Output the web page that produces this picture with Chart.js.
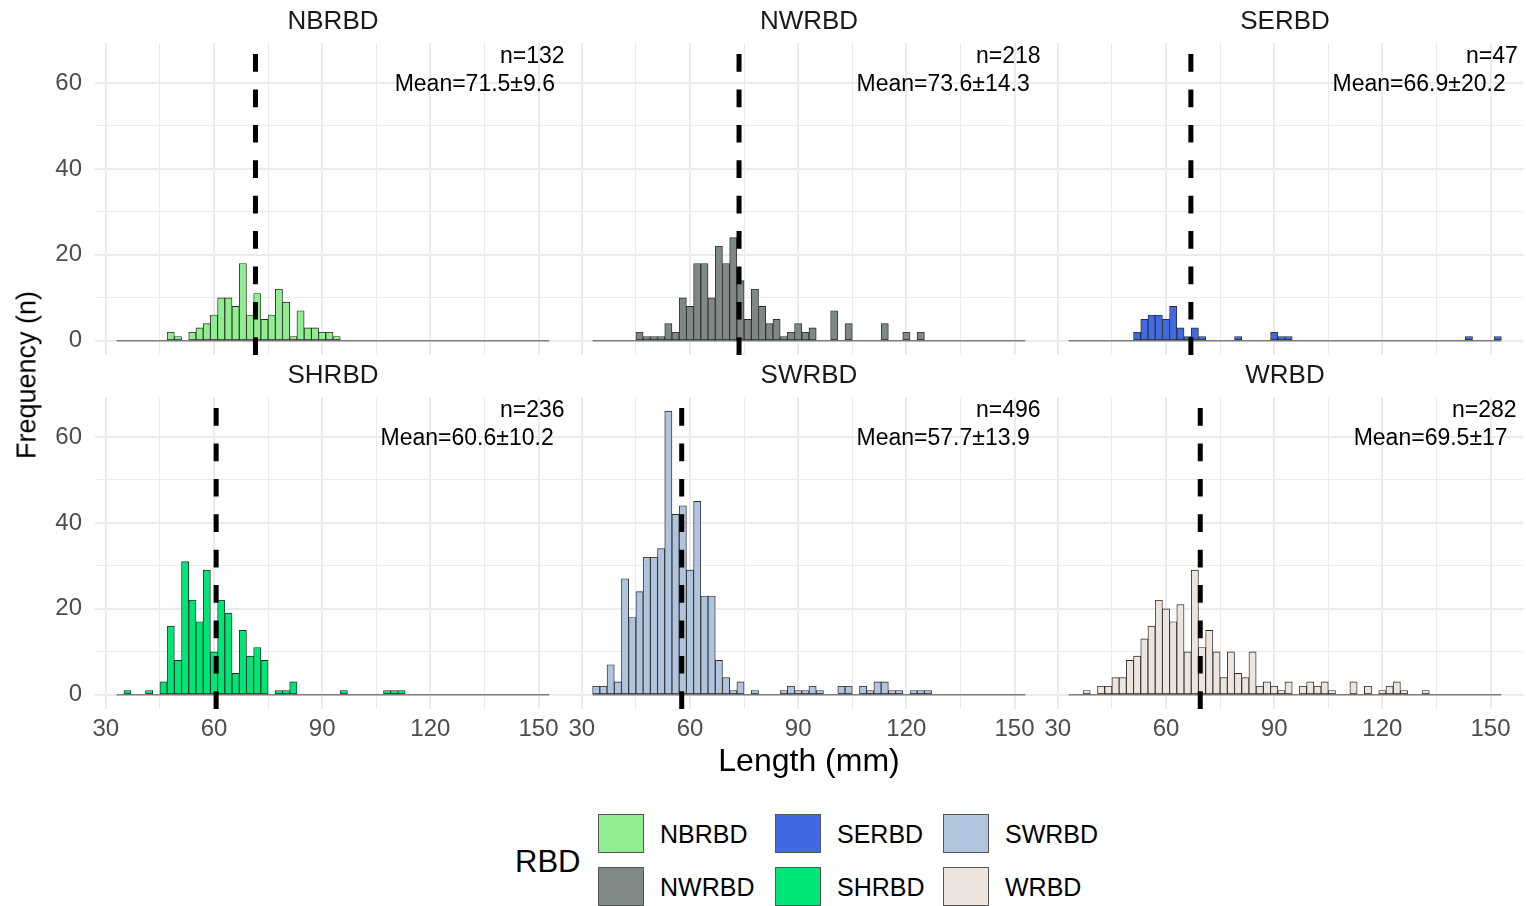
<!DOCTYPE html>
<html>
<head>
<meta charset="utf-8">
<title>Length histograms by RBD</title>
<script src="https://cdn.jsdelivr.net/npm/chart.js@4.4.1/dist/chart.umd.min.js"></script>
<style>
  body { margin: 0; background: #fff; font-family: "Liberation Sans", Arial, sans-serif; }
  #wrap { position: relative; width: 1526px; height: 906px; overflow: hidden; background: #fff; }
  .panel { position: absolute; }
  .txt { position: absolute; white-space: nowrap; color: #000; line-height: 1; }
  .key { position: absolute; width: 46px; height: 39px; box-sizing: border-box; border: 1px solid #555; }
</style>
</head>
<body>
<div id="wrap"></div>

<script>
/* ========================================
   DATA (2 mm bins)
======================================== */

const binCenters = [
  34, 36, 38, 40, 42, 44, 46, 48, 50, 52,
  54, 56, 58, 60, 62, 64, 66, 68, 70, 72,
  74, 76, 78, 80, 82, 84, 86, 88, 90, 92,
  94, 96, 98, 100, 102, 104, 106, 108, 110, 112,
  114, 116, 118, 120, 122, 124, 126, 128, 130, 132,
  134, 136, 138, 140, 142, 144, 146, 148, 150, 152
];
const binRange = [33, 153];

const regions = ["NBRBD", "NWRBD", "SERBD", "SHRBD", "SWRBD", "WRBD"];
const fillColors = ["#90ee90", "#7f8885", "#4169e1", "#00e676", "#b0c4de", "#ece4dd"];

const nbrbd = [
  0, 0, 0, 0, 0, 0, 0, 2, 1, 0,
  2, 3, 4, 6, 10, 10, 8, 18, 6, 11,
  5, 6, 12, 9, 1, 7, 3, 3, 2, 2,
  1, 0, 0, 0, 0, 0, 0, 0, 0, 0,
  0, 0, 0, 0, 0, 0, 0, 0, 0, 0,
  0, 0, 0, 0, 0, 0, 0, 0, 0, 0
];
const nwrbd = [
  0, 0, 0, 0, 0, 0, 2, 1, 1, 1,
  4, 2, 10, 8, 18, 18, 10, 22, 18, 24,
  14, 5, 12, 8, 4, 5, 1, 2, 4, 2,
  3, 0, 0, 7, 0, 4, 0, 0, 0, 0,
  4, 0, 0, 2, 0, 2, 0, 0, 0, 0,
  0, 0, 0, 0, 0, 0, 0, 0, 0, 0
];
const serbd = [
  0, 0, 0, 0, 0, 0, 0, 0, 0, 2,
  5, 6, 6, 5, 8, 3, 1, 3, 1, 0,
  0, 0, 0, 1, 0, 0, 0, 0, 2, 1,
  1, 0, 0, 0, 0, 0, 0, 0, 0, 0,
  0, 0, 0, 0, 0, 0, 0, 0, 0, 0,
  0, 0, 0, 0, 0, 1, 0, 0, 0, 1
];
const shrbd = [
  0, 1, 0, 0, 1, 0, 3, 16, 8, 31,
  22, 17, 29, 10, 22, 19, 5, 15, 9, 11,
  8, 0, 1, 1, 3, 0, 0, 0, 0, 0,
  0, 1, 0, 0, 0, 0, 0, 1, 1, 1,
  0, 0, 0, 0, 0, 0, 0, 0, 0, 0,
  0, 0, 0, 0, 0, 0, 0, 0, 0, 0
];
const swrbd = [
  2, 2, 7, 3, 27, 18, 24, 32, 32, 34,
  66, 42, 44, 29, 45, 23, 23, 8, 4, 1,
  3, 0, 1, 0, 0, 0, 1, 2, 1, 1,
  2, 1, 0, 0, 2, 2, 0, 2, 1, 3,
  3, 1, 1, 0, 1, 1, 1, 0, 0, 0,
  0, 0, 0, 0, 0, 0, 0, 0, 0, 0
];
const wrbd = [
  0, 0, 1, 0, 2, 2, 4, 4, 8, 9,
  13, 16, 22, 20, 17, 21, 10, 29, 11, 15,
  10, 4, 10, 5, 4, 10, 2, 3, 2, 1,
  3, 0, 2, 3, 2, 3, 1, 0, 0, 3,
  0, 2, 0, 1, 2, 3, 1, 0, 0, 1,
  0, 0, 0, 0, 0, 0, 0, 0, 0, 0
];
const counts = [nbrbd, nwrbd, serbd, shrbd, swrbd, wrbd];

const nValues = [132, 218, 47, 236, 496, 282];
const meanValues = [71.5, 73.6, 66.9, 60.6, 57.7, 69.5];
const sdValues = [9.6, 14.3, 20.2, 10.2, 13.9, 17];

const xTickLabels = [30, 60, 90, 120, 150];
const yTickLabels = [0, 20, 40, 60];
const xLimits = [27, 159];
const yLimits = [-3.3, 69.3];

/* ========================================
   LAYOUT
======================================== */

const FONT = '"Liberation Sans", Arial, sans-serif';
const GRID = "#ebebeb";
const wrap = document.getElementById("wrap");

// major + minor grid positions (minor = midway between majors)
const xGrid = [];
xTickLabels.forEach((v, i) => {
  xGrid.push(v);
  if (i < xTickLabels.length - 1) xGrid.push((v + xTickLabels[i + 1]) / 2);
});
const yGrid = [];
yTickLabels.forEach((v, i) => {
  yGrid.push(v);
  if (i < yTickLabels.length - 1) yGrid.push((v + yTickLabels[i + 1]) / 2);
});

// strip title over the panel + n= / Mean= text (hjust = 1.1)
const panelText = {
  id: "panelText",
  afterDatasetsDraw(chart, args, opts) {
    const { ctx, chartArea } = chart;
    ctx.save();
    ctx.textBaseline = "middle";

    ctx.font = `26px ${FONT}`;
    ctx.fillStyle = "#1a1a1a";
    ctx.textAlign = "center";
    ctx.fillText(opts.strip, (chartArea.left + chartArea.right) / 2, chartArea.top - 21);

    ctx.font = `23px ${FONT}`;
    ctx.fillStyle = "#000";
    ctx.textAlign = "left";
    opts.lines.forEach((t, k) => {
      const w = ctx.measureText(t).width;
      ctx.fillText(t, chartArea.right - 1.1 * w, chartArea.top + opts.offsets[k]);
    });
    ctx.restore();
  }
};

function addText(text, css) {
  const d = document.createElement("div");
  d.className = "txt";
  d.textContent = text;
  Object.assign(d.style, css);
  wrap.appendChild(d);
  return d;
}

/* ========================================
   PANELS
======================================== */

regions.forEach((name, p) => {
  const r = Math.floor(p / 3);
  const c = p % 3;

  const box = document.createElement("div");
  box.className = "panel";
  box.style.left = (476 * c) + "px";
  box.style.top = (r === 0 ? 0 : 354) + "px";
  box.style.width = "571px";
  box.style.height = (r === 0 ? 355 : 415) + "px";
  const cv = document.createElement("canvas");
  box.appendChild(cv);
  wrap.appendChild(box);

  const bars = binCenters.map((x, i) => ({ x: x, y: counts[p][i] }));

  new Chart(cv, {
    type: "bar",
    data: {
      datasets: [
        {
          type: "line",
          data: [{ x: meanValues[p], y: yLimits[0] }, { x: meanValues[p], y: yLimits[1] }],
          borderColor: "#000",
          borderWidth: 5,
          borderDash: [17.7, 17.7],
          borderCapStyle: "butt",
          pointRadius: 0,
          order: 0
        },
        {
          type: "bar",
          data: bars,
          backgroundColor: fillColors[p],
          borderColor: "#2b2b2b",
          borderWidth: 0.9,
          borderSkipped: false,
          barPercentage: 1,
          categoryPercentage: 1,
          order: 1
        },
        {
          type: "line",
          data: [{ x: binRange[0], y: 0 }, { x: binRange[1], y: 0 }],
          borderColor: "#4d4d4d",
          borderWidth: 1,
          pointRadius: 0,
          order: 2
        }
      ]
    },
    options: {
      responsive: true,
      maintainAspectRatio: false,
      animation: false,
      layout: { padding: { top: 43, left: 0, right: 0, bottom: 0 } },
      plugins: {
        legend: { display: false },
        tooltip: { enabled: false },
        title: { display: false },
        panelText: {
          strip: name,
          lines: [`n=${nValues[p]}`, `Mean=${meanValues[p]}±${sdValues[p]}`],
          offsets: [13.5, 41.5]
        }
      },
      scales: {
        x: {
          type: "linear",
          min: xLimits[0],
          max: xLimits[1],
          offset: false,
          border: { display: false },
          grid: {
            offset: false,
            drawTicks: false,
            color: GRID,
            lineWidth: ctx => (ctx.tick && xTickLabels.includes(ctx.tick.value)) ? 2 : 1
          },
          ticks: {
            display: r === 1,
            autoSkip: false,
            maxRotation: 0,
            padding: 6,
            color: "#4d4d4d",
            font: { family: FONT, size: 24, lineHeight: 1.2 },
            callback: v => xTickLabels.includes(v) ? String(v) : ""
          },
          afterBuildTicks: s => { s.ticks = xGrid.map(v => ({ value: v })); },
          afterFit: s => {
            s.height = r === 1 ? 60 : 0;
            s.paddingLeft = 0;
            s.paddingRight = 0;
          }
        },
        y: {
          type: "linear",
          min: yLimits[0],
          max: yLimits[1],
          border: { display: false },
          grid: {
            drawTicks: false,
            color: GRID,
            lineWidth: ctx => (ctx.tick && yTickLabels.includes(ctx.tick.value)) ? 2 : 1
          },
          ticks: {
            display: c === 0,
            autoSkip: false,
            padding: 13,
            color: "#4d4d4d",
            font: { family: FONT, size: 24 },
            callback: v => yTickLabels.includes(v) ? String(v) : ""
          },
          afterBuildTicks: s => { s.ticks = yGrid.map(v => ({ value: v })); },
          afterFit: s => {
            s.width = 95;
            s.paddingTop = 0;
            s.paddingBottom = 0;
          }
        }
      }
    },
    plugins: [panelText]
  });
});

/* ========================================
   AXIS TITLES
======================================== */

addText("Length (mm)", { left: "809px", top: "760px", fontSize: "32px", transform: "translate(-50%, -50%)" });
addText("Frequency (n)", { left: "27px", top: "375px", fontSize: "27px", transform: "translate(-50%, -50%) rotate(-90deg)" });

/* ========================================
   LEGEND (2 rows, filled by column)
======================================== */

addText("RBD", { left: "515px", top: "861px", fontSize: "31px", transform: "translateY(-50%)" });

const keyCols = [598, 775, 943];
const keyRows = [814, 867];

regions.forEach((name, k) => {
  const col = Math.floor(k / 2);
  const row = k % 2;
  const key = document.createElement("div");
  key.className = "key";
  key.style.left = keyCols[col] + "px";
  key.style.top = keyRows[row] + "px";
  key.style.background = fillColors[k];
  wrap.appendChild(key);
  addText(name, {
    left: (keyCols[col] + 62) + "px",
    top: (keyRows[row] + 20) + "px",
    fontSize: "25px",
    transform: "translateY(-50%)"
  });
});
</script>
</body>
</html>
